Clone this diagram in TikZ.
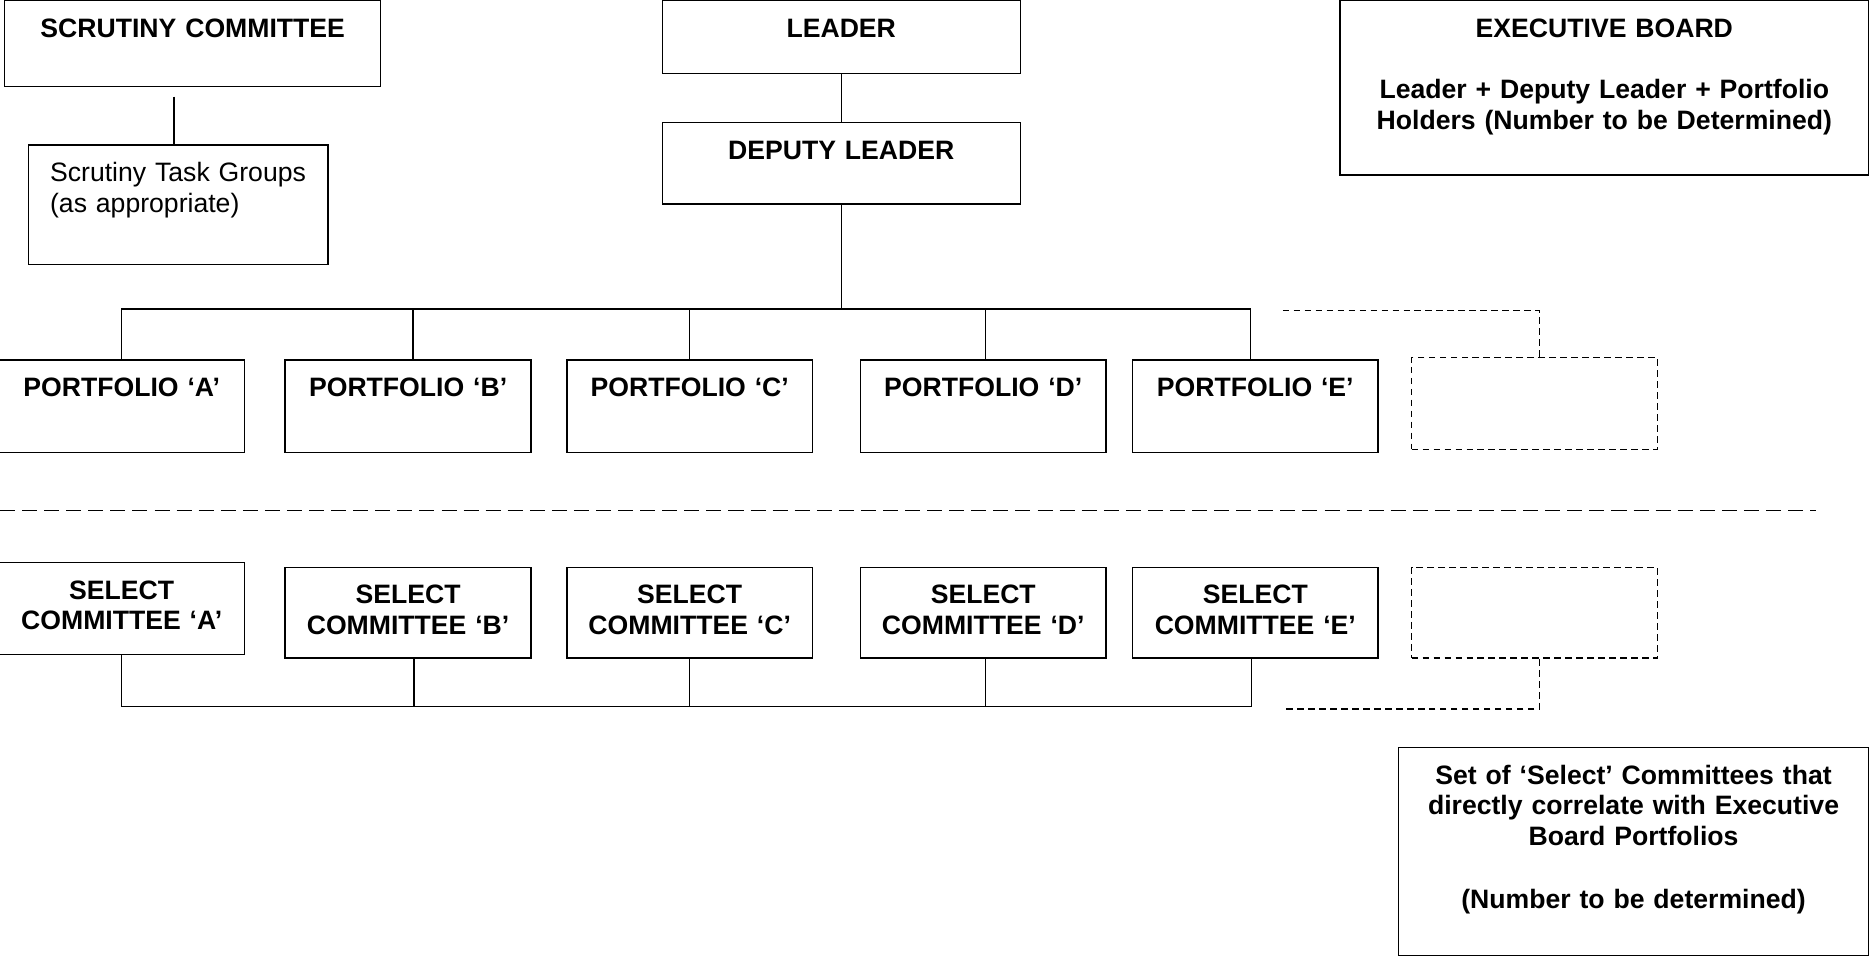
\documentclass[tikz,border=0pt]{standalone}
\usepackage{fontspec}
\setmainfont{Liberation Sans}
\usepackage{tikz}
\usetikzlibrary{positioning}

\begin{document}
\begin{tikzpicture}[x=1pt, y=-1pt, line width=1.2pt, node distance=40pt,
	orgbox/.style={draw, rectangle, anchor=north, inner sep=0pt, align=center, text height=30.5pt, font=\bfseries\fontsize{22.3}{25.8}\selectfont},
	portbox/.style={orgbox, text width=206pt, text depth=47pt},
	selbox/.style={orgbox, text width=206pt, text depth=45.5pt},
	spare/.style={draw, rectangle, dashed, dash pattern=on 5.6pt off 3.6pt, anchor=north, inner sep=0pt, minimum width=206pt, minimum height=77pt},
	spareline/.style={dashed, dash pattern=on 5.6pt off 3.6pt}]
	\useasboundingbox (0,0) rectangle (1568,801);

	% scrutiny side
	\node[orgbox, text width=315pt, text depth=41.5pt] (scrut) at (161.5,0) {SCRUTINY COMMITTEE};
	\node[orgbox, font=\fontsize{22.3}{25.8}\selectfont, align=left, inner xsep=18pt, text width=215pt, text depth=69.5pt] (task) at (149.5,121) {Scrutiny Task Groups\\(as appropriate)};
	\coordinate (scrutend) at (146,81);
	\draw (scrutend) -- (scrutend |- task.north);

	% leader and deputy
	\node[orgbox, text width=300pt, text depth=30.5pt] (leader) at (705,0) {LEADER};
	\node[orgbox, text width=300pt, text depth=37.5pt, below=40pt of leader] (deputy) {DEPUTY LEADER};
	\draw (leader) -- (deputy);

	\node[orgbox, text width=443pt, text depth=115.5pt] (exec) at (1344.5,0) {EXECUTIVE BOARD\\[26pt]Leader + Deputy Leader + Portfolio\\Holders (Number to be Determined)};

	% portfolios
	\node[portbox] (pa) at (102,301) {PORTFOLIO ‘A’};
	\node[portbox] (pb) at (342,301) {PORTFOLIO ‘B’};
	\node[portbox] (pc) at (578,301) {PORTFOLIO ‘C’};
	\node[portbox] (pd) at (824,301) {PORTFOLIO ‘D’};
	\node[portbox] (pe) at (1052,301) {PORTFOLIO ‘E’};
	\node[spare] (pf) at (1286,299) {};

	\coordinate (bus) at (705,259);
	\draw (deputy) -- (bus);
	\foreach \p/\dx in {pa/0,pb/4,pc/0,pd/2,pe/-4}
		\draw (bus) -| ([xshift=\dx pt]\p.north);
	\coordinate (pfend) at (1075,260);
	\draw[spareline] (pfend) -| ([xshift=4pt]pf.north);

	% divider
	\draw[dashed, dash pattern=on 12.6pt off 5.9pt] (0,428) -- (1522,428);

	% select committees
	\node[selbox, text depth=46.5pt] (sa) at (102,471) {SELECT\\COMMITTEE ‘A’};
	\node[selbox] (sb) at (342,475) {SELECT\\COMMITTEE ‘B’};
	\node[selbox] (sc) at (578,475) {SELECT\\COMMITTEE ‘C’};
	\node[selbox] (sd) at (824,475) {SELECT\\COMMITTEE ‘D’};
	\node[selbox] (se) at (1052,475) {SELECT\\COMMITTEE ‘E’};
	\node[spare, minimum height=76pt] (sf) at (1286,475) {};

	\coordinate (sbus) at (0,592);
	\draw (sa.south) -- (sa.south |- sbus) -| ([xshift=-3pt]se.south);
	\foreach \s/\dx in {sb/5,sc/0,sd/2}
		\draw ([xshift=\dx pt]\s.south) -- ([xshift=\dx pt]\s.south |- sbus);
	\coordinate (sfend) at (1075,594);
	\draw[spareline] ([xshift=4pt]sf.south) |- (sfend);

	\node[orgbox, text width=394pt, text depth=143.5pt] (set) at (1369,626) {Set of ‘Select’ Committees that\\directly correlate with Executive\\Board Portfolios\\[27pt](Number to be determined)};
\end{tikzpicture}
\end{document}
